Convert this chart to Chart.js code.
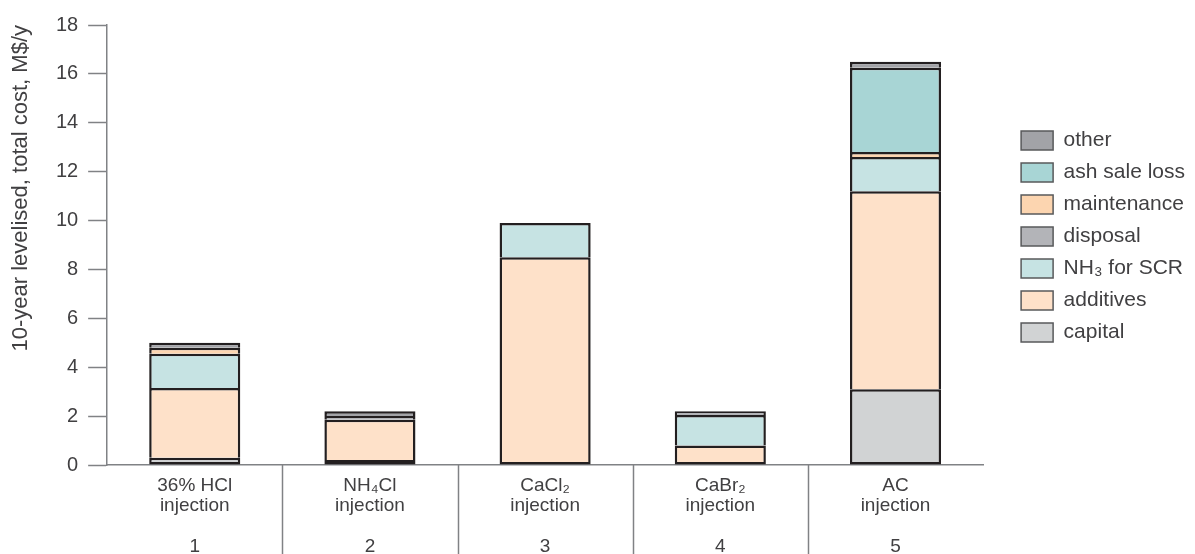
<!DOCTYPE html>
<html>
<head>
<meta charset="utf-8">
<script src="https://cdn.jsdelivr.net/npm/chart.js@4.4.1/dist/chart.umd.min.js"></script>
<style>
  html, body { margin: 0; padding: 0; background: #fff; }
  #caixa { width: 1195px; height: 554px; }
</style>
</head>
<body>
<div id="caixa"><canvas id="grafico" width="1195" height="554"></canvas></div>
<script>
// categorias do eixo x (linhas do rótulo)
const categorias = [
  ['36% HCl', 'injection', '', '1'],
  ['NH₄Cl', 'injection', '', '2'],
  ['CaCl₂', 'injection', '', '3'],
  ['CaBr₂', 'injection', '', '4'],
  ['AC', 'injection', '', '5']
]

// custos em M$/y, de baixo para cima em cada barra
const capital     = [0.3,  0.2,  0,   0,    3.1]
const additives   = [2.85, 1.65, 8.5, 0.8,  8.1]
const nh3         = [1.4,  0,    1.4, 1.25, 1.4]
const disposal    = [0,    0.15, 0,   0.15, 0]
const maintenance = [0.25, 0,    0,   0,    0.2]
const ashLoss     = [0,    0,    0,   0,    3.45]
const other       = [0.2,  0.2,  0,   0,    0.25]

const yMin = 0
const yMax = 18
const yPasso = 2

const series = [capital, additives, nh3, disposal, maintenance, ashLoss, other]
const nomes = ['capital', 'additives', 'NH₃ for SCR', 'disposal', 'maintenance', 'ash sale loss', 'other']
const cores = ['#d1d3d4', '#fee1c9', '#c6e3e3', '#b3b4b8', '#fcd5b0', '#a8d5d5', '#a2a3a7']

const corTexto = '#414042'
const corEixo = '#808285'
const fonte = 'Liberation Sans, Arial, sans-serif'

// só a primeira fatia não-nula de cada barra leva borda embaixo
function bordaBase(ctx) {
  const i = ctx.dataIndex
  const temAbaixo = series.slice(0, ctx.datasetIndex).some(function(s) { return s[i] > 0 })
  return temAbaixo ? 'start' : false
}

const datasets = series.map(function(valores, k) {
  return {
    label: nomes[k],
    data: valores,
    backgroundColor: cores[k],
    borderColor: '#231f20',
    borderWidth: 2.5,
    borderSkipped: bordaBase,
    categoryPercentage: 1,
    barPercentage: 0.52
  }
})

// linhas verticais separando as categorias abaixo do eixo
const divisorias = {
  id: 'divisorias',
  afterDraw(chart) {
    const x = chart.scales.x
    const ctx = chart.ctx
    ctx.save()
    ctx.strokeStyle = corEixo
    ctx.lineWidth = 1.5
    for (let i = 1; i < categorias.length; i++) {
      const px = Math.round((x.getPixelForValue(i - 1) + x.getPixelForValue(i)) / 2) + 0.5
      ctx.beginPath()
      ctx.moveTo(px, x.top)
      ctx.lineTo(px, chart.height)
      ctx.stroke()
    }
    ctx.restore()
  }
}

new Chart(document.getElementById('grafico'), {
  type: 'bar',
  data: { labels: categorias, datasets: datasets },
  plugins: [divisorias],
  options: {
    responsive: false,
    animation: false,
    devicePixelRatio: 1,
    layout: { padding: { top: 25, bottom: 0, left: 0, right: 0 } },
    plugins: {
      tooltip: { enabled: false },
      legend: {
        position: 'right',
        fullSize: false,
        align: 'start',
        reverse: true,
        // título vazio só para empurrar a lista para baixo
        title: { display: true, text: '', font: { size: 10, lineHeight: 1 }, padding: { top: 84, bottom: 0 } },
        labels: {
          boxWidth: 32,
          boxHeight: 19,
          padding: 11,
          color: corTexto,
          font: { family: fonte, size: 21 },
          generateLabels(chart) {
            const itens = Chart.defaults.plugins.legend.labels.generateLabels(chart)
            itens.forEach(function(it) {
              it.lineWidth = 1.5
              it.strokeStyle = '#58595b'
            })
            return itens
          }
        }
      }
    },
    scales: {
      x: {
        stacked: true,
        grid: { display: false, drawTicks: false },
        border: { display: true, color: corEixo, width: 1.5 },
        ticks: {
          color: corTexto,
          padding: 11,
          maxRotation: 0,
          autoSkip: false,
          font: { family: fonte, size: 19, lineHeight: 1.06 }
        },
        afterFit(escala) { escala.height = 89 }
      },
      y: {
        stacked: true,
        min: yMin,
        max: yMax,
        grid: {
          drawOnChartArea: false,
          drawTicks: true,
          tickLength: 19,
          tickColor: corEixo,
          tickWidth: 1.5
        },
        border: { display: true, color: corEixo, width: 1.5 },
        ticks: {
          stepSize: yPasso,
          color: corTexto,
          padding: 10,
          font: { family: fonte, size: 20 }
        },
        title: {
          display: true,
          align: 'end',
          text: '10-year levelised, total cost, M$/y',
          color: corTexto,
          font: { family: fonte, size: 22 },
          padding: { top: 8, bottom: 11.5 }
        }
      },
      folga: {
        position: 'right',
        display: true,
        grid: { display: false },
        border: { display: false },
        ticks: { display: false },
        afterFit(escala) { escala.width = 27 }
      }
    }
  }
})
</script>
</body>
</html>
